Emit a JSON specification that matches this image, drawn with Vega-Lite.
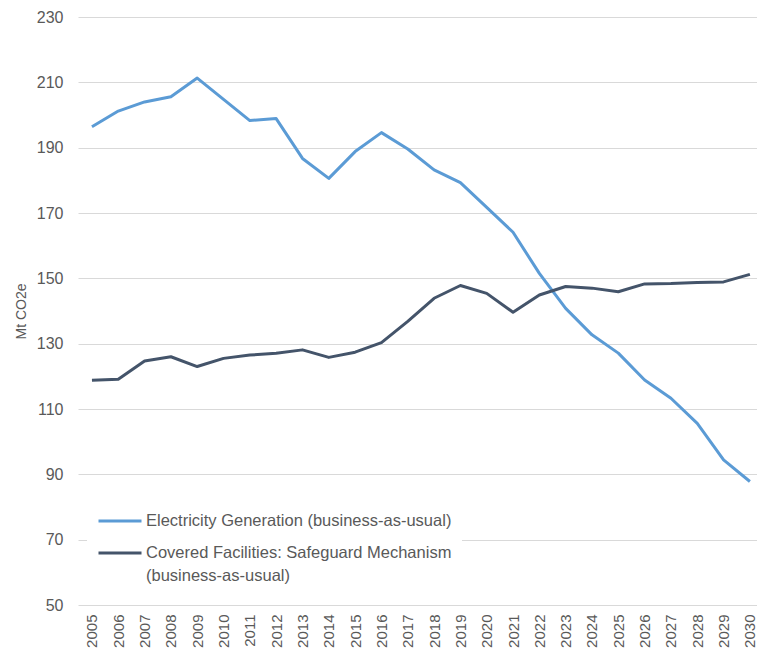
{
  "$schema": "https://vega.github.io/schema/vega-lite/v6.json",
  "width": 679,
  "height": 588,
  "autosize": "none",
  "padding": {"left": 78, "top": 17, "right": 0, "bottom": 49},
  "background": "white",
  "config": {
    "view": {"stroke": null},
    "font": "Liberation Sans"
  },
  "data": {
    "values": [
      {"year": 2005, "series": "Electricity Generation (business-as-usual)", "value": 196.4},
      {"year": 2006, "series": "Electricity Generation (business-as-usual)", "value": 201.2},
      {"year": 2007, "series": "Electricity Generation (business-as-usual)", "value": 204.0},
      {"year": 2008, "series": "Electricity Generation (business-as-usual)", "value": 205.6},
      {"year": 2009, "series": "Electricity Generation (business-as-usual)", "value": 211.3},
      {"year": 2010, "series": "Electricity Generation (business-as-usual)", "value": 204.8},
      {"year": 2011, "series": "Electricity Generation (business-as-usual)", "value": 198.3},
      {"year": 2012, "series": "Electricity Generation (business-as-usual)", "value": 198.9},
      {"year": 2013, "series": "Electricity Generation (business-as-usual)", "value": 186.7},
      {"year": 2014, "series": "Electricity Generation (business-as-usual)", "value": 180.6},
      {"year": 2015, "series": "Electricity Generation (business-as-usual)", "value": 188.8},
      {"year": 2016, "series": "Electricity Generation (business-as-usual)", "value": 194.6},
      {"year": 2017, "series": "Electricity Generation (business-as-usual)", "value": 189.6},
      {"year": 2018, "series": "Electricity Generation (business-as-usual)", "value": 183.2},
      {"year": 2019, "series": "Electricity Generation (business-as-usual)", "value": 179.3},
      {"year": 2020, "series": "Electricity Generation (business-as-usual)", "value": 171.7},
      {"year": 2021, "series": "Electricity Generation (business-as-usual)", "value": 164.1},
      {"year": 2022, "series": "Electricity Generation (business-as-usual)", "value": 151.5},
      {"year": 2023, "series": "Electricity Generation (business-as-usual)", "value": 140.8},
      {"year": 2024, "series": "Electricity Generation (business-as-usual)", "value": 132.7},
      {"year": 2025, "series": "Electricity Generation (business-as-usual)", "value": 127.1},
      {"year": 2026, "series": "Electricity Generation (business-as-usual)", "value": 118.9},
      {"year": 2027, "series": "Electricity Generation (business-as-usual)", "value": 113.3},
      {"year": 2028, "series": "Electricity Generation (business-as-usual)", "value": 105.6},
      {"year": 2029, "series": "Electricity Generation (business-as-usual)", "value": 94.4},
      {"year": 2030, "series": "Electricity Generation (business-as-usual)", "value": 87.8},
      {"year": 2005, "series": "Covered Facilities: Safeguard Mechanism (business-as-usual)", "value": 118.8},
      {"year": 2006, "series": "Covered Facilities: Safeguard Mechanism (business-as-usual)", "value": 119.1},
      {"year": 2007, "series": "Covered Facilities: Safeguard Mechanism (business-as-usual)", "value": 124.7},
      {"year": 2008, "series": "Covered Facilities: Safeguard Mechanism (business-as-usual)", "value": 126.0},
      {"year": 2009, "series": "Covered Facilities: Safeguard Mechanism (business-as-usual)", "value": 123.0},
      {"year": 2010, "series": "Covered Facilities: Safeguard Mechanism (business-as-usual)", "value": 125.5},
      {"year": 2011, "series": "Covered Facilities: Safeguard Mechanism (business-as-usual)", "value": 126.5},
      {"year": 2012, "series": "Covered Facilities: Safeguard Mechanism (business-as-usual)", "value": 127.1},
      {"year": 2013, "series": "Covered Facilities: Safeguard Mechanism (business-as-usual)", "value": 128.1},
      {"year": 2014, "series": "Covered Facilities: Safeguard Mechanism (business-as-usual)", "value": 125.8},
      {"year": 2015, "series": "Covered Facilities: Safeguard Mechanism (business-as-usual)", "value": 127.4},
      {"year": 2016, "series": "Covered Facilities: Safeguard Mechanism (business-as-usual)", "value": 130.3},
      {"year": 2017, "series": "Covered Facilities: Safeguard Mechanism (business-as-usual)", "value": 136.8},
      {"year": 2018, "series": "Covered Facilities: Safeguard Mechanism (business-as-usual)", "value": 143.9},
      {"year": 2019, "series": "Covered Facilities: Safeguard Mechanism (business-as-usual)", "value": 147.8},
      {"year": 2020, "series": "Covered Facilities: Safeguard Mechanism (business-as-usual)", "value": 145.4},
      {"year": 2021, "series": "Covered Facilities: Safeguard Mechanism (business-as-usual)", "value": 139.6},
      {"year": 2022, "series": "Covered Facilities: Safeguard Mechanism (business-as-usual)", "value": 144.9},
      {"year": 2023, "series": "Covered Facilities: Safeguard Mechanism (business-as-usual)", "value": 147.5},
      {"year": 2024, "series": "Covered Facilities: Safeguard Mechanism (business-as-usual)", "value": 147.0},
      {"year": 2025, "series": "Covered Facilities: Safeguard Mechanism (business-as-usual)", "value": 145.9},
      {"year": 2026, "series": "Covered Facilities: Safeguard Mechanism (business-as-usual)", "value": 148.3},
      {"year": 2027, "series": "Covered Facilities: Safeguard Mechanism (business-as-usual)", "value": 148.4},
      {"year": 2028, "series": "Covered Facilities: Safeguard Mechanism (business-as-usual)", "value": 148.7},
      {"year": 2029, "series": "Covered Facilities: Safeguard Mechanism (business-as-usual)", "value": 148.9},
      {"year": 2030, "series": "Covered Facilities: Safeguard Mechanism (business-as-usual)", "value": 151.2}
    ]
  },
  "mark": {"type": "line", "strokeWidth": 3, "strokeJoin": "round"},
  "encoding": {
    "x": {
      "field": "year",
      "type": "quantitative",
      "scale": {"domain": [2004.47, 2030.27], "nice": false, "zero": false},
      "axis": {
        "title": null,
        "values": [2005,2006,2007,2008,2009,2010,2011,2012,2013,2014,2015,2016,2017,2018,2019,2020,2021,2022,2023,2024,2025,2026,2027,2028,2029,2030],
        "format": "d",
        "labelAngle": 270,
        "labelAlign": "right",
        "labelBaseline": "middle",
        "labelFontSize": 15,
        "labelColor": "#595959",
        "labelPadding": 9,
        "labelFlush": false,
        "labelOverlap": false,
        "domain": false,
        "ticks": false,
        "grid": false
      }
    },
    "y": {
      "field": "value",
      "type": "quantitative",
      "scale": {"domain": [50, 230], "nice": false},
      "axis": {
        "title": "Mt CO2e",
        "titleFontSize": 14,
        "titleFontWeight": "normal",
        "titleColor": "#595959",
        "titlePadding": 8,
        "values": [50, 70, 90, 110, 130, 150, 170, 190, 210, 230],
        "labelFontSize": 16,
        "labelColor": "#595959",
        "labelPadding": 15,
        "domain": false,
        "ticks": false,
        "grid": true,
        "gridColor": "#d9d9d9",
        "gridWidth": 1.2
      }
    },
    "color": {
      "field": "series",
      "type": "nominal",
      "sort": ["Electricity Generation (business-as-usual)", "Covered Facilities: Safeguard Mechanism (business-as-usual)"],
      "scale": {
        "domain": ["Electricity Generation (business-as-usual)", "Covered Facilities: Safeguard Mechanism (business-as-usual)"],
        "range": ["#5b9bd5", "#44546a"]
      },
      "legend": {
        "title": null,
        "orient": "none",
        "legendX": 9,
        "legendY": 471,
        "direction": "vertical",
        "fillColor": "white",
        "padding": 10,
        "symbolType": "stroke",
        "symbolSize": 1849,
        "symbolStrokeWidth": 3,
        "labelFontSize": 16.5,
        "labelColor": "#595959",
        "labelOffset": 3,
        "labelLimit": 500,
        "rowPadding": 0,
        "labelExpr": "datum.label == 'Covered Facilities: Safeguard Mechanism (business-as-usual)' ? ['Covered Facilities: Safeguard Mechanism', '(business-as-usual)'] : datum.label",
        "encode": {"labels": {"update": {"lineHeight": {"value": 23}}}}
      }
    }
  }
}
